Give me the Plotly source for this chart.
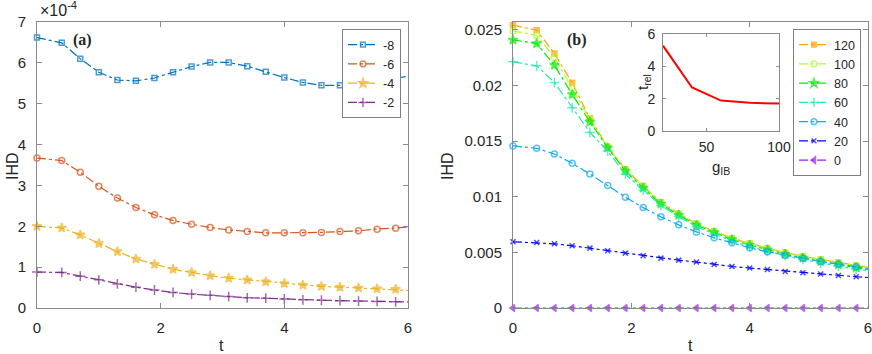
import plotly.graph_objects as go

# ---------------- data ----------------
t = [0, 0.4, 0.7, 1.0, 1.3, 1.6, 1.9, 2.2, 2.5, 2.8, 3.1, 3.4, 3.7, 4.0,
     4.3, 4.6, 4.9, 5.2, 5.5, 5.8, 6.0]

# panel (a): IHD in units of 1e-4
a_names = ["-8", "-6", "-4", "-2"]
a_m8 = [6.62, 6.49, 6.10, 5.77, 5.58, 5.56, 5.63, 5.77, 5.91, 6.01, 6.01,
        5.92, 5.78, 5.64, 5.52, 5.45, 5.45, 5.49, 5.56, 5.63, 5.67]
a_m6 = [3.67, 3.61, 3.32, 2.98, 2.69, 2.46, 2.28, 2.14, 2.05, 1.97, 1.91,
        1.87, 1.84, 1.84, 1.84, 1.85, 1.87, 1.89, 1.93, 1.95, 1.98]
a_m4 = [2.00, 1.96, 1.79, 1.58, 1.38, 1.20, 1.07, 0.95, 0.87, 0.79, 0.73,
        0.69, 0.64, 0.60, 0.56, 0.53, 0.51, 0.49, 0.47, 0.46, 0.43]
a_m2 = [0.88, 0.87, 0.78, 0.69, 0.59, 0.51, 0.44, 0.38, 0.34, 0.31, 0.28,
        0.25, 0.24, 0.22, 0.20, 0.19, 0.18, 0.17, 0.16, 0.15, 0.15]
a_ticks_y = [0, 1, 2, 3, 4, 5, 6, 7]

# panel (b): IHD
b_names = ["120", "100", "80", "60", "40", "20", "0"]
b_120 = [0.02541, 0.02496, 0.02287, 0.02023, 0.01704, 0.01449, 0.01247,
         0.01098, 0.00950, 0.00848, 0.00758, 0.00690, 0.00627, 0.00580,
         0.00538, 0.00499, 0.00466, 0.00436, 0.00409, 0.00382, 0.00366]
b_100 = [0.02490, 0.02450, 0.02250, 0.01975, 0.01695, 0.01445, 0.01240,
         0.01090, 0.00945, 0.00845, 0.00755, 0.00687, 0.00624, 0.00577,
         0.00535, 0.00496, 0.00462, 0.00432, 0.00404, 0.00377, 0.00360]
b_80 = [0.02409, 0.02377, 0.02182, 0.01919, 0.01673, 0.01440, 0.01231,
        0.01078, 0.00935, 0.00835, 0.00745, 0.00678, 0.00615, 0.00566,
        0.00523, 0.00484, 0.00449, 0.00418, 0.00390, 0.00362, 0.00345]
b_60 = [0.02212, 0.02176, 0.02027, 0.01799, 0.01578, 0.01411, 0.01202,
        0.01060, 0.00922, 0.00822, 0.00732, 0.00665, 0.00602, 0.00552,
        0.00509, 0.00470, 0.00435, 0.00404, 0.00376, 0.00349, 0.00332]
b_40 = [0.01456, 0.01435, 0.01384, 0.01300, 0.01204, 0.01100, 0.00996,
        0.00902, 0.00819, 0.00747, 0.00684, 0.00631, 0.00586, 0.00541,
        0.00505, 0.00475, 0.00448, 0.00418, 0.00395, 0.00370, 0.00355]
b_20 = [0.00595, 0.00588, 0.00577, 0.00559, 0.00538, 0.00514, 0.00493,
        0.00469, 0.00448, 0.00430, 0.00413, 0.00391, 0.00373, 0.00359,
        0.00346, 0.00328, 0.00317, 0.00305, 0.00292, 0.00281, 0.00274]
b_0 = [0.0] * 21

# inset: relaxation time vs g_IB
g_ib = [20, 40, 60, 80, 100]
t_rel = [5.28, 2.69, 1.88, 1.74, 1.70]

# ---------------- styling ----------------
FONT = "Liberation Sans"
TXT = "#262626"
AX = "#8a8a8a"

a_series = [
    (a_names[0], a_m8, "#0072BD", "square-open", 5),
    (a_names[1], a_m6, "#D95319", "circle-open", 6),
    (a_names[2], a_m4, "#EDB120", "star", 7),
    (a_names[3], a_m2, "#7E2F8E", "cross-thin", 7),
]
b_series = [
    (b_names[0], b_120, "#FFA500", "square", 5),
    (b_names[1], b_100, "#ADFF2F", "circle-open", 6),
    (b_names[2], b_80, "#00EE00", "star", 7),
    (b_names[3], b_60, "#1EEBB0", "cross-thin", 7),
    (b_names[4], b_40, "#10A8F0", "circle-open", 6),
    (b_names[5], b_20, "#0000FF", "x-thin", 5),
    (b_names[6], b_0, "#A020F0", "triangle-left", 6),
]

fig = go.Figure()


def add(series, xa, ya, leg):
    for name, vals, col, sym, sz in series:
        sizes = [sz] * (len(t) - 1) + [0]
        fig.add_trace(go.Scatter(
            x=t, y=vals, mode="lines+markers", name=name,
            line=dict(color=col, width=1.2, dash="dashdot"),
            marker=dict(symbol=sym, size=sizes, color=col,
                        line=dict(color=col, width=1.5)),
            xaxis=xa, yaxis=ya, legend=leg, cliponaxis=False))


add(a_series, "x", "y", "legend")
add(b_series, "x2", "y2", "legend2")

fig.add_trace(go.Scatter(x=g_ib, y=t_rel, mode="lines", showlegend=False,
                         line=dict(color="#FF0000", width=2),
                         xaxis="x3", yaxis="y3"))

W, H = 872, 354


def px(x):
    return x / W


def py(y):
    return (H - y) / H


common = dict(showline=True, linecolor=AX, linewidth=1, mirror="ticks",
              ticks="inside", ticklen=5, tickcolor=AX, showgrid=False,
              zeroline=False, automargin=False, ticklabeloverflow="allow",
              tickfont=dict(family=FONT, size=15, color=TXT))
small = {**common, "tickfont": dict(family=FONT, size=14, color=TXT),
         "ticklen": 3}

ydom = [py(308), py(22)]
leg_common = dict(xanchor="right", yanchor="top", bgcolor="white",
                  bordercolor="#7f7f7f", borderwidth=1,
                  font=dict(family=FONT, size=12.5, color=TXT),
                  itemwidth=30, tracegroupgap=0)
fig.update_layout(
    template="none",
    width=W, height=H, margin=dict(l=0, r=0, t=0, b=0, autoexpand=False),
    paper_bgcolor="white", plot_bgcolor="white",
    font=dict(family=FONT, color=TXT),
    xaxis=dict(domain=[px(37), px(408)], range=[0, 6], dtick=2, anchor="y",
               ticklabelstandoff=6, **common),
    yaxis=dict(domain=ydom, range=[0, 7], tickvals=a_ticks_y, anchor="x",
               ticklabelstandoff=7, **common),
    xaxis2=dict(domain=[px(513), px(868)], range=[0, 6], dtick=2, anchor="y2",
                ticklabelstandoff=6, **common),
    yaxis2=dict(domain=ydom, range=[0, 0.0257], dtick=0.005, anchor="x2",
                ticklabelstandoff=7, **common),
    xaxis3=dict(domain=[px(663), px(779)], range=[20, 100], tickvals=[50, 100],
                anchor="y3", ticklabelstandoff=3, **small),
    yaxis3=dict(domain=[py(131), py(34)], range=[0, 6], dtick=2, anchor="x3",
                ticklabelstandoff=4, **small),
    legend=dict(x=px(401), y=py(29), **leg_common),
    legend2=dict(x=px(861), y=py(29), **leg_common),
)

ann = [
    dict(text="IHD", x=px(12), y=py(166), textangle=-90, size=16),
    dict(text="IHD", x=px(447), y=py(166), textangle=-90, size=16),
    dict(text="t", x=px(221), y=py(345), size=16),
    dict(text="t", x=px(690), y=py(345), size=16),
    dict(text="t<sub>rel</sub>", x=px(644), y=py(82), textangle=-90, size=15),
    dict(text="g<sub>IB</sub>", x=px(721), y=py(167), size=15),
]
for a in ann:
    fig.add_annotation(text=a["text"], x=a["x"], y=a["y"], xref="paper",
                       yref="paper", showarrow=False,
                       textangle=a.get("textangle", 0),
                       font=dict(family=FONT, size=a["size"], color=TXT),
                       xanchor="center", yanchor="middle")

fig.add_annotation(text="×10<sup>-4</sup>", x=px(38), y=py(21), xref="paper",
                   yref="paper", showarrow=False, xanchor="left",
                   yanchor="bottom", font=dict(family=FONT, size=16, color=TXT))
for lab, cx in (("(a)", 82), ("(b)", 577)):
    fig.add_annotation(text="<b>" + lab + "</b>", x=px(cx), y=py(40),
                       xref="paper", yref="paper", showarrow=False,
                       xanchor="center", yanchor="middle",
                       font=dict(family="Liberation Serif", size=16,
                                 color=TXT))

fig.write_html("out.html", config={"displayModeBar": False},
               post_script="document.body.style.margin='0';"
                           "document.body.style.overflow='hidden';")
